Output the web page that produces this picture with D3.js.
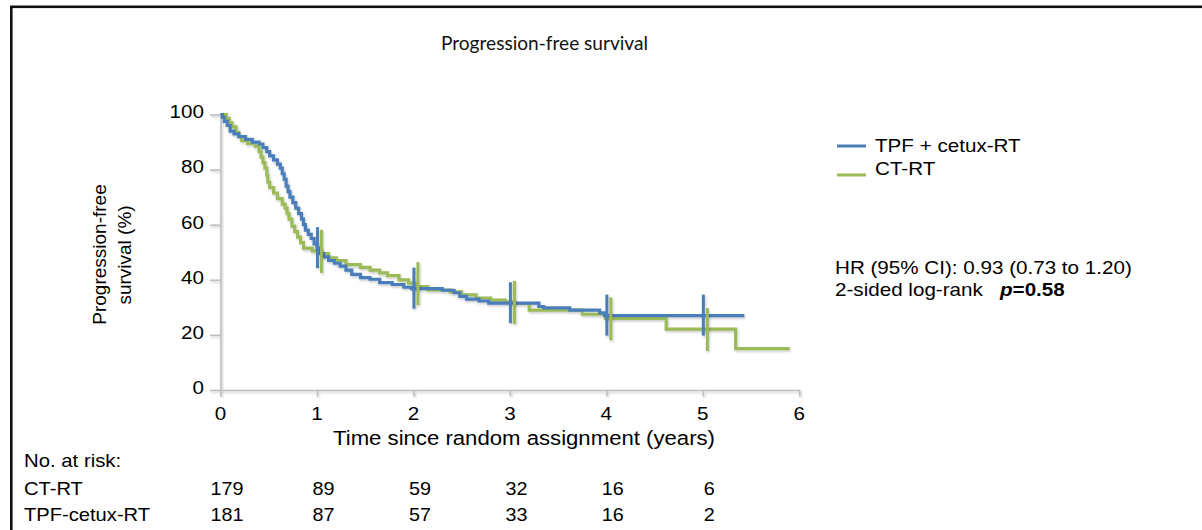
<!DOCTYPE html>
<html>
<head>
<meta charset="utf-8">
<script src="https://cdn.jsdelivr.net/npm/d3@7"></script>
<style>
  html, body { margin: 0; padding: 0; background: #fff; }
  svg { display: block; }
</style>
</head>
<body>
<svg id="chart" width="1202" height="530"></svg>
<script>
// ---------------- DATA ----------------
const chartTitle = "Progression-free survival";
const xTickYears = [0, 1, 2, 3, 4, 5, 6];
const yTickValues = [0, 20, 40, 60, 80, 100];

const seriesNames = ["TPF + cetux-RT", "CT-RT"];

// TPF + cetux-RT (blue) : step times (years) and survival (%) after each step
const blueTimes = [0, 0.02, 0.04, 0.07, 0.10, 0.14, 0.19, 0.26, 0.33, 0.40, 0.44, 0.48, 0.51, 0.55, 0.59, 0.62, 0.64, 0.66, 0.68, 0.70, 0.72, 0.75, 0.78, 0.81, 0.84, 0.86, 0.88, 0.91, 0.94, 0.97, 1.00, 1.03, 1.07, 1.12, 1.18, 1.24, 1.30, 1.36, 1.45, 1.55, 1.65, 1.78, 1.90, 1.98, 2.30, 2.42, 2.48, 2.55, 2.68, 2.78, 3.30, 3.35, 3.62, 3.93, 3.98, 5.43];
const blueSurv  = [100, 99, 97.5, 96, 94, 93, 92, 91, 90, 89.3, 88, 86.5, 85, 83.5, 82, 80.5, 78.5, 76.5, 74, 72, 70, 68, 66, 64, 62, 60, 58, 56.5, 55, 53, 51.5, 49.5, 48.3, 47, 46, 45, 43.5, 42, 40.8, 40.2, 39, 38.3, 37.3, 36.8, 36.2, 35.3, 34, 33, 32.3, 31.5, 30.3, 29.8, 29, 28, 27, 27];

// CT-RT (green)
const greenTimes = [0, 0.06, 0.09, 0.12, 0.16, 0.19, 0.22, 0.28, 0.36, 0.40, 0.42, 0.44, 0.46, 0.48, 0.49, 0.51, 0.55, 0.59, 0.64, 0.67, 0.69, 0.71, 0.74, 0.77, 0.80, 0.83, 0.86, 0.95, 1.05, 1.12, 1.20, 1.30, 1.45, 1.55, 1.65, 1.73, 1.85, 1.95, 2.03, 2.15, 2.38, 2.50, 2.65, 2.80, 2.95, 3.05, 3.20, 3.75, 3.99, 4.62, 5.34, 5.90];
const greenSurv  = [100, 98.5, 97, 95.5, 93.5, 92, 90.5, 89.5, 88.5, 86.5, 84.5, 82.5, 80.5, 78, 75.5, 73.5, 71.5, 69.5, 67.5, 66, 64, 62, 59.5, 57.5, 55.5, 53.5, 51.5, 50.5, 49.5, 48, 47, 45.5, 44.5, 43.5, 42.5, 41.5, 40, 38.8, 37.5, 36.3, 35.6, 34.5, 33.4, 32.6, 32, 31.4, 29, 27.5, 26, 22.1, 15, 15];

const censorYears = [1, 2, 3, 4, 5];

const riskYears = [0, 1, 2, 3, 4, 5];
const riskLabels = ["CT-RT", "TPF-cetux-RT"];
const riskCT  = [179, 89, 59, 32, 16, 6];
const riskTPF = [181, 87, 57, 33, 16, 2];

const hrText = "HR (95% CI): 0.93 (0.73 to 1.20)";
const logrankText = "2-sided log-rank";
const pLabel = "p";
const pValueText = "=0.58";

// ---------------- STYLE ----------------
const BLUE = "#4a7ebb";
const GREEN = "#9bbb59";
const AXIS = "#bfbfbf";
const FONT = "'Liberation Sans', Arial, sans-serif";
const SX = 1.085;

const svg = d3.select("#chart");

const defs = svg.append("defs");
const f = defs.append("filter").attr("id", "shadow").attr("x", "-20%").attr("y", "-20%").attr("width", "140%").attr("height", "140%");
f.append("feDropShadow").attr("dx", 1).attr("dy", 1.5).attr("stdDeviation", 0.9)
  .attr("flood-color", "#000").attr("flood-opacity", 0.22);

// frame
svg.append("rect").attr("x", 11.3).attr("y", 6.8).attr("width", 1300).attr("height", 600)
  .attr("fill", "none").attr("stroke", "#111").attr("stroke-width", 2.6);

function stretch(sel, sx) {
  sel.each(function () {
    const n = this.getComputedTextLength();
    if (n > 0) {
      d3.select(this).attr("textLength", n * sx).attr("lengthAdjust", "spacingAndGlyphs");
    }
  });
  return sel;
}
function label(x, y, str, opts = {}) {
  const t = svg.append("text")
    .attr("x", x).attr("y", y)
    .attr("font-family", opts.family || FONT)
    .attr("font-size", opts.size || 19)
    .attr("font-weight", opts.weight || "normal")
    .attr("text-anchor", opts.anchor || "start")
    .attr("fill", opts.fill || "#000")
    .text(str);
  if (opts.width) t.attr("textLength", opts.width).attr("lengthAdjust", "spacingAndGlyphs");
  else if (opts.sx !== 0) stretch(t, opts.sx || SX);
  return t;
}

// scales
const x = d3.scaleLinear().domain([0, 6]).range([220.5, 799.3]);
const y = d3.scaleLinear().domain([0, 100]).range([390, 114.5]);

// title
label(544.5, 49.5, chartTitle, { family: "Lato, 'Open Sans', sans-serif", size: 20, anchor: "middle", width: 207, fill: "#111" });

// axes
const yAxis = svg.append("g").attr("transform", `translate(${x(0)},0)`)
  .attr("filter", "url(#shadow)")
  .call(d3.axisLeft(y).tickValues(yTickValues).tickSize(10.5).tickSizeOuter(0).tickFormat(""));
const xAxis = svg.append("g").attr("transform", `translate(0,${y(0)})`)
  .attr("filter", "url(#shadow)")
  .call(d3.axisBottom(x).tickValues(xTickYears).tickSize(6.5).tickSizeOuter(0).tickFormat(""));
[yAxis, xAxis].forEach(g => {
  g.selectAll("path.domain").attr("stroke", AXIS).attr("stroke-width", 1.6);
  g.selectAll(".tick line").attr("stroke", AXIS).attr("stroke-width", 1.6);
});

// tick labels
yTickValues.forEach(v => label(204, y(v) + 3.8, String(v), { anchor: "end" }));
xTickYears.forEach(v => label(x(v), 419.5, String(v), { anchor: "middle" }));

// axis titles
label(524, 445, "Time since random assignment (years)", { anchor: "middle", size: 19.5, width: 382 });
svg.append("text").attr("transform", "translate(105.5,254.5) rotate(-90)")
  .attr("font-family", FONT).attr("font-size", 19).attr("text-anchor", "middle").text("Progression-free");
svg.append("text").attr("transform", "translate(130.5,255) rotate(-90)")
  .attr("font-family", FONT).attr("font-size", 19).attr("text-anchor", "middle").text("survival (%)");

// curves
function toPoints(T, S) { return T.map((t, i) => [t, S[i]]); }
function survAt(T, S, t) { let v = S[0]; for (let i = 0; i < T.length; i++) { if (T[i] <= t) v = S[i]; } return v; }
const line = d3.line().x(d => x(d[0])).y(d => y(d[1])).curve(d3.curveStepAfter);

const curves = svg.append("g").attr("filter", "url(#shadow)");
curves.append("path").datum(toPoints(greenTimes, greenSurv)).attr("d", line)
  .attr("fill", "none").attr("stroke", GREEN).attr("stroke-width", 3.2);
curves.append("path").datum(toPoints(blueTimes, blueSurv)).attr("d", line)
  .attr("fill", "none").attr("stroke", BLUE).attr("stroke-width", 3.2);

// censor / year marks
const marks = svg.append("g").attr("filter", "url(#shadow)");
censorYears.forEach(t => {
  const cy = y(survAt(blueTimes, blueSurv, t));
  marks.append("line").attr("x1", x(t) + 0.5).attr("x2", x(t) + 0.5).attr("y1", cy - 21).attr("y2", cy + 20)
    .attr("stroke", BLUE).attr("stroke-width", 3);
});
censorYears.forEach(t => {
  const cy = y(survAt(greenTimes, greenSurv, t));
  marks.append("line").attr("x1", x(t) + 4.5).attr("x2", x(t) + 4.5).attr("y1", cy - 21).attr("y2", cy + 22)
    .attr("stroke", GREEN).attr("stroke-width", 3);
});

// legend
const legColors = [BLUE, GREEN];
const legLineY = [146, 175];
const legTextY = [152, 175];
seriesNames.forEach((name, i) => {
  svg.append("line").attr("x1", 837).attr("x2", 866).attr("y1", legLineY[i]).attr("y2", legLineY[i])
    .attr("stroke", legColors[i]).attr("stroke-width", 3);
  label(875, legTextY[i], name);
});

// statistics
label(835, 273.5, hrText);
label(835, 296, logrankText);
const pt = svg.append("text").attr("x", 1000).attr("y", 296)
  .attr("font-family", FONT).attr("font-size", 19).attr("font-weight", "bold");
pt.append("tspan").attr("font-style", "italic").text(pLabel);
pt.append("tspan").text(pValueText);
stretch(pt, SX);

// number at risk table
label(24, 467, "No. at risk:", { sx: 1.07 });
const riskRows = [riskCT, riskTPF];
const rowY = [495, 521];
riskLabels.forEach((lab, r) => {
  label(24, rowY[r], lab, { sx: 1.06 });
  riskRows[r].forEach((n, i) => label(x(riskYears[i]) + 6.5, rowY[r], String(n), { anchor: "middle", sx: 1.04 }));
});
</script>
</body>
</html>
